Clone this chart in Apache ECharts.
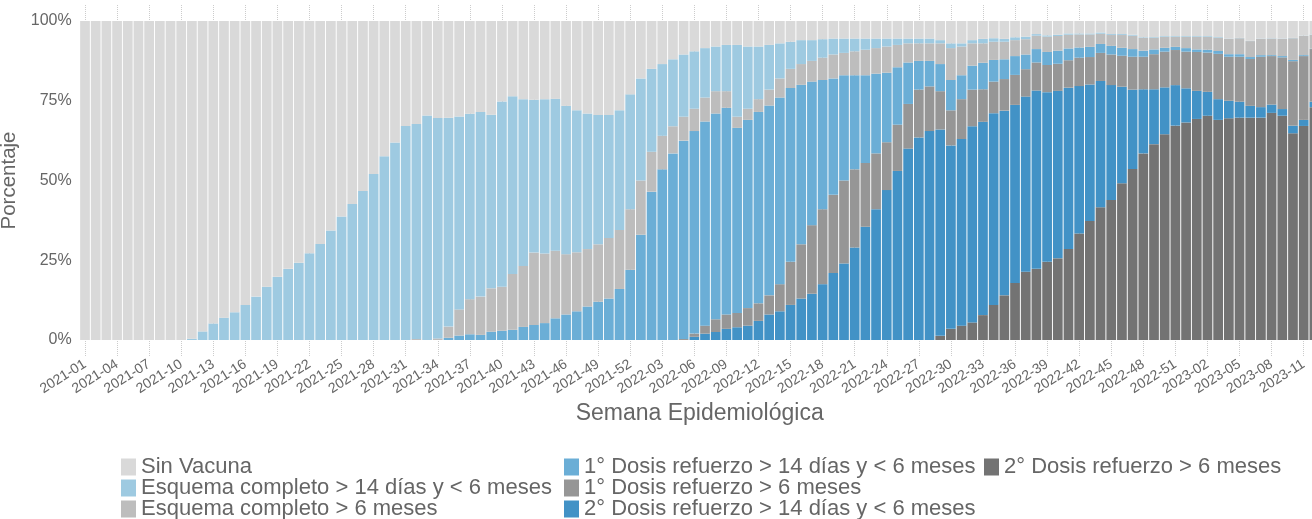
<!DOCTYPE html>
<html>
<head>
<meta charset="utf-8">
<script src="https://cdn.jsdelivr.net/npm/echarts@6/dist/echarts.min.js"></script>
<style>
html, body { margin: 0; padding: 0; background: #fff; }
#chart { width: 1312px; height: 519px; }
</style>
</head>
<body>
<div id="chart"></div>
<script>
var semanas = [
    "2021-01","2021-02","2021-03","2021-04","2021-05","2021-06","2021-07","2021-08","2021-09","2021-10",
    "2021-11","2021-12","2021-13","2021-14","2021-15","2021-16","2021-17","2021-18","2021-19","2021-20",
    "2021-21","2021-22","2021-23","2021-24","2021-25","2021-26","2021-27","2021-28","2021-29","2021-30",
    "2021-31","2021-32","2021-33","2021-34","2021-35","2021-36","2021-37","2021-38","2021-39","2021-40",
    "2021-41","2021-42","2021-43","2021-44","2021-45","2021-46","2021-47","2021-48","2021-49","2021-50",
    "2021-51","2021-52","2022-01","2022-02","2022-03","2022-04","2022-05","2022-06","2022-07","2022-08",
    "2022-09","2022-10","2022-11","2022-12","2022-13","2022-14","2022-15","2022-16","2022-17","2022-18",
    "2022-19","2022-20","2022-21","2022-22","2022-23","2022-24","2022-25","2022-26","2022-27","2022-28",
    "2022-29","2022-30","2022-31","2022-32","2022-33","2022-34","2022-35","2022-36","2022-37","2022-38",
    "2022-39","2022-40","2022-41","2022-42","2022-43","2022-44","2022-45","2022-46","2022-47","2022-48",
    "2022-49","2022-50","2022-51","2022-52","2023-01","2023-02","2023-03","2023-04","2023-05","2023-06",
    "2023-07","2023-08","2023-09","2023-10","2023-11","2023-12"
];

// porcentajes por semana
var sinVacuna = [
    100,100,100,100,100,100,100,100,100,100,
    99.6,97.3,94.8,93.0,91.3,89.0,86.4,83.3,80.2,77.7,
    75.8,72.8,69.9,65.7,61.3,57.4,53.3,48.0,42.4,38.1,
    32.9,32.3,29.6,30.4,30.3,29.9,29.1,28.5,29.4,25.2,
    23.6,24.5,24.7,24.5,24.4,26.6,28.0,29.0,29.5,29.5,
    28.0,23.0,18.0,15.0,13.5,12.0,10.5,9.5,8.5,8.0,
    7.5,7.5,8.0,8.0,7.5,7.0,6.5,6.0,6.0,5.7,
    5.5,5.5,5.5,5.5,5.5,5.5,5.5,5.5,5.5,5.5,
    6.0,7.0,7.0,6.0,5.6,5.4,5.6,5.1,4.9,4.1,
    4.5,4.3,3.9,3.9,3.9,3.6,4.1,4.1,4.3,5.1,
    5.0,4.7,4.7,4.7,4.7,4.7,5.0,5.5,5.3,6.2,
    5.5,5.4,5.5,5.3,4.6,4.2
];
var esquema14 = [
    0,0,0,0,0,0,0,0,0,0,
    0.4,2.7,5.2,7.0,8.7,11.0,13.6,16.7,19.8,22.3,
    24.2,27.2,30.1,34.3,38.7,42.6,46.7,52.0,57.6,61.9,
    67.1,67.4,70.4,69.1,65.5,60.5,58.1,57.9,54.4,58.1,
    55.7,52.3,47.9,48.4,47.6,46.5,44.5,42.5,40.5,38.5,
    37.5,36.0,32.0,26.0,22.5,21.0,19.5,18.0,15.5,14.0,
    14.5,22.5,19.5,16.5,14.0,11.0,8.5,7.5,6.5,5.8,
    5.0,4.5,4.0,3.5,3.0,2.5,2.0,1.5,1.5,1.5,
    1.0,1.5,1.0,1.0,1.4,1.1,0.9,0.9,0.8,0.5,
    0.4,0.4,0.4,0.3,0.3,0.4,0.3,0.3,0.3,0.2,
    0.2,0.2,0.2,0.2,0.2,0.2,0.2,0.1,0.1,0.1,
    0.1,0.1,0.1,0.1,0.1,0.1
];
var esquema6 = [
    0,0,0,0,0,0,0,0,0,0,
    0,0,0,0,0,0,0,0,0,0,
    0,0,0,0,0,0,0,0,0,0,
    0,0.3,0,0.5,3.5,8.2,11.0,12.0,13.6,13.8,
    17.5,19.1,22.7,21.8,21.2,18.9,18.5,18.0,18.0,19.0,
    18.5,19.0,17.0,12.5,10.5,8.5,7.5,7.0,7.5,7.0,
    5.2,3.5,3.5,4.0,5.0,6.0,6.0,6.5,6.5,7.0,
    7.5,7.0,7.5,8.0,8.0,8.2,7.0,6.0,5.5,5.5,
    6.5,10.0,9.0,7.0,6.1,5.7,5.5,5.0,4.8,4.2,
    4.8,4.6,4.3,4.1,3.9,3.2,3.4,4.0,4.2,4.0,
    3.7,3.5,3.2,3.6,4.0,4.1,4.2,4.8,5.0,5.0,
    5.1,5.2,5.4,6.8,6.0,4.4
];
var refuerzo1_14 = [
    0,0,0,0,0,0,0,0,0,0,
    0,0,0,0,0,0,0,0,0,0,
    0,0,0,0,0,0,0,0,0,0,
    0,0,0,0,0.7,1.4,1.8,1.6,2.6,2.9,
    3.2,4.1,4.7,5.3,6.8,8.0,9.0,10.5,12.0,13.0,
    16.0,22.0,33.0,46.5,53.5,58.5,62.2,63.5,64.0,64.5,
    64.8,58.0,59.0,60.0,59.5,58.5,54.5,50.0,45.0,40.5,
    36.5,33.0,29.5,27.5,25.0,21.8,18.0,13.0,9.0,8.0,
    8.5,9.5,7.5,7.5,8.3,6.8,6.2,5.9,4.6,4.2,
    4.1,4.1,3.7,3.2,3.2,2.8,2.7,2.5,2.4,1.9,
    1.5,1.2,1.0,1.1,0.8,0.9,0.9,0.8,0.8,0.6,
    0.5,0.3,0.4,0.4,0.3,0.1
];
var refuerzo1_6 = [
    0,0,0,0,0,0,0,0,0,0,
    0,0,0,0,0,0,0,0,0,0,
    0,0,0,0,0,0,0,0,0,0,
    0,0,0,0,0,0,0,0,0,0,
    0,0,0,0,0,0,0,0,0,0,
    0,0,0,0,0,0,0.3,1.0,2.5,4.0,
    4.5,4.5,5.5,5.5,6.0,8.5,13.5,17.0,21.5,23.5,
    24.5,26.0,24.5,20.0,17.5,15.0,14.5,14.0,15.0,14.0,
    12.0,11.0,12.5,11.5,10.2,9.9,9.9,9.4,8.6,8.8,
    8.5,8.5,8.6,8.9,8.6,8.8,9.6,9.7,10.3,10.2,
    11.0,11.2,11.0,11.5,12.2,12.3,14.2,13.8,14.1,14.7,
    15.8,15.2,16.2,20.2,20.0,16.5
];
var refuerzo2_14 = [
    0,0,0,0,0,0,0,0,0,0,
    0,0,0,0,0,0,0,0,0,0,
    0,0,0,0,0,0,0,0,0,0,
    0,0,0,0,0,0,0,0,0,0,
    0,0,0,0,0,0,0,0,0,0,
    0,0,0,0,0,0,0,1.0,2.0,2.5,
    3.5,4.0,4.5,6.0,8.0,9.0,11.0,13.0,14.5,17.5,
    21.0,24.0,29.0,35.5,41.0,47.0,53.0,60.0,63.5,65.5,
    64.7,57.5,58.5,61.5,60.6,60.1,57.9,55.8,54.9,55.9,
    53.2,52.5,50.6,46.2,42.8,39.6,36.0,30.3,24.9,20.1,
    17.2,14.7,12.7,10.7,8.8,7.5,6.5,5.5,5.0,3.7,
    3.3,2.6,2.1,2.4,1.9,1.7
];
var refuerzo2_6 = [
    0,0,0,0,0,0,0,0,0,0,
    0,0,0,0,0,0,0,0,0,0,
    0,0,0,0,0,0,0,0,0,0,
    0,0,0,0,0,0,0,0,0,0,
    0,0,0,0,0,0,0,0,0,0,
    0,0,0,0,0,0,0,0,0,0,
    0,0,0,0,0,0,0,0,0,0,
    0,0,0,0,0,0,0,0,0,0,
    1.3,3.5,4.5,5.5,7.8,11.0,14.0,17.9,21.4,22.3,
    24.5,25.6,28.5,33.4,37.3,41.6,43.9,49.1,53.6,58.5,
    61.4,64.5,67.2,68.2,69.3,70.3,69.0,69.5,69.7,69.7,
    69.7,71.2,70.3,64.8,67.1,73.0
];

var nombres = [
    "Sin Vacuna",
    "Esquema completo > 14 días y < 6 meses",
    "Esquema completo > 6 meses",
    "1° Dosis refuerzo > 14 días y < 6 meses",
    "1° Dosis refuerzo > 6 meses",
    "2° Dosis refuerzo > 14 días y < 6 meses",
    "2° Dosis refuerzo > 6 meses"
];
var colores = ["#d9d9d9", "#9ecae1", "#bdbdbd", "#6baed6", "#969696", "#4292c6", "#737373"];
var valores = [sinVacuna, esquema14, esquema6, refuerzo1_14, refuerzo1_6, refuerzo2_14, refuerzo2_6];

var fuente = "'Liberation Sans', Arial, sans-serif";
var gris = "#666666";

// ggplot apila el ultimo nivel abajo
var series = [];
for (var k = nombres.length - 1; k >= 0; k--) {
    series.push({
        name: nombres[k],
        type: 'bar',
        stack: 'total',
        xAxisIndex: 0,
        yAxisIndex: 0,
        barCategoryGap: '9%',
        itemStyle: { color: colores[k] },
        data: valores[k]
    });
}

var legendText = { color: gris, fontSize: 22, fontFamily: fuente };
function leyenda(left, items) {
    return {
        orient: 'vertical',
        left: left,
        top: 456,
        width: 500,
        height: 120,
        padding: 0,
        icon: 'rect',
        itemWidth: 15,
        itemHeight: 17,
        itemGap: -1,
        selectedMode: false,
        textStyle: legendText,
        data: items
    };
}

var myChart = echarts.init(document.getElementById("chart"), null, { renderer: 'canvas' });
var option = {
    animation: false,
    backgroundColor: '#ffffff',
    textStyle: { fontFamily: fuente },
    legend: [
        leyenda(121, nombres.slice(0, 3)),
        leyenda(564, nombres.slice(3, 6)),
        leyenda(984, nombres.slice(6))
    ],
    grid: [
        { left: 79.66, right: -7.7, top: 21, bottom: 179, outerBoundsMode: 'none', containLabel: false },
        // lineas punteadas de fondo, se ven arriba y abajo de las barras
        { left: 85, right: -2.35, top: 5, bottom: 162, outerBoundsMode: 'none', containLabel: false }
    ],
    xAxis: [
        {
            gridIndex: 0,
            type: 'category',
            data: semanas,
            name: 'Semana Epidemiológica',
            nameLocation: 'middle',
            nameGap: 58,
            nameTextStyle: { color: gris, fontSize: 23, fontFamily: fuente },
            axisLine: { show: false },
            axisTick: { show: false },
            axisLabel: {
                interval: 2,
                rotate: 32,
                margin: 23,
                color: gris,
                fontSize: 14,
                fontFamily: fuente
            },
            splitLine: { show: false }
        },
        {
            gridIndex: 1,
            type: 'category',
            data: semanas,
            boundaryGap: false,
            axisLine: { show: false },
            axisTick: { show: false },
            axisLabel: { show: false },
            splitLine: {
                show: true,
                interval: function (index) { return index % 3 === 0; },
                lineStyle: { color: '#cccccc', type: 'dotted', width: 1 }
            }
        }
    ],
    yAxis: [
        {
            gridIndex: 0,
            type: 'value',
            min: 0,
            max: 100,
            interval: 25,
            name: 'Porcentaje',
            nameLocation: 'middle',
            nameGap: 54,
            nameTextStyle: { color: gris, fontSize: 20.5, fontFamily: fuente },
            axisLine: { show: false },
            axisTick: { show: false },
            axisLabel: {
                formatter: '{value}%',
                margin: 8,
                color: gris,
                fontSize: 16,
                fontFamily: fuente
            },
            splitLine: { show: false }
        },
        {
            gridIndex: 1,
            type: 'value',
            min: 0,
            max: 100,
            show: false
        }
    ],
    series: series
};
myChart.setOption(option);
</script>
</body>
</html>
